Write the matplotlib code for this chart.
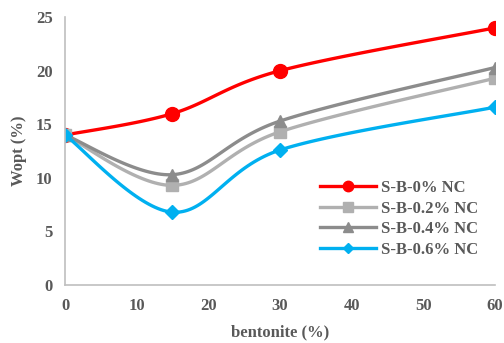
import numpy as np
import matplotlib
matplotlib.use('Agg')
from matplotlib import pyplot as plt

bentonite = [0, 15, 30, 60]
series_names = ['S-B-0% NC', 'S-B-0.2% NC', 'S-B-0.4% NC', 'S-B-0.6% NC']
wopt_0 = [14.0, 16.0, 20.0, 24.0]
wopt_02 = [14.0, 9.3, 14.3, 19.3]
wopt_04 = [14.0, 10.3, 15.3, 20.3]
wopt_06 = [14.0, 6.8, 12.6, 16.6]

colors = ['#FF0000', '#B0B0B0', '#8C8C8C', '#00B0F0']
markers = ['o', 's', '^', 'D']
msizes = [10, 9, 9, 7]


def smooth(x, y, n=40):
    # cubic bezier through the points, Excel-style smoothing
    x = np.asarray(x, float)
    y = np.asarray(y, float)
    px = np.concatenate([[x[0]], x, [x[-1]]])
    py = np.concatenate([[y[0]], y, [y[-1]]])
    xs, ys = [], []
    t = np.linspace(0, 1, n)
    for i in range(1, len(px) - 2):
        p0 = np.array([px[i], py[i]])
        p3 = np.array([px[i + 1], py[i + 1]])
        p1 = p0 + (np.array([px[i + 1], py[i + 1]]) - np.array([px[i - 1], py[i - 1]])) / 6
        p2 = p3 - (np.array([px[i + 2], py[i + 2]]) - np.array([px[i], py[i]])) / 6
        b = ((1 - t) ** 3)[:, None] * p0 + (3 * (1 - t) ** 2 * t)[:, None] * p1 \
            + (3 * (1 - t) * t ** 2)[:, None] * p2 + (t ** 3)[:, None] * p3
        xs.append(b[:, 0])
        ys.append(b[:, 1])
    return np.concatenate(xs), np.concatenate(ys)


plt.rcParams['font.family'] = ['Liberation Serif', 'DejaVu Serif']
plt.rcParams['font.weight'] = 'bold'

fig = plt.figure(figsize=(5.04, 3.43), dpi=100)
ax = fig.add_axes([0.129, 0.169, 0.853, 0.781])

for vals, name, c, mk, ms in zip([wopt_0, wopt_02, wopt_04, wopt_06], series_names, colors, markers, msizes):
    sx, sy = smooth(bentonite, vals)
    ax.plot(sx, sy, color=c, lw=2.4, solid_capstyle='round')
    ax.plot(bentonite, vals, linestyle='', marker=mk, color=c, markersize=ms)
    ax.plot([], [], color=c, lw=2.4, marker=mk, markersize=ms * 0.75, label=name)

ax.set_xlim(0, 60)
ax.set_ylim(0, 25)
ax.set_xticks(range(0, 61, 10))
ax.set_yticks(range(0, 26, 5))
ax.tick_params(length=0, labelsize=12, labelcolor='#595959', pad=9)
for lbl in ax.get_xticklabels() + ax.get_yticklabels():
    lbl.set_fontweight('bold')
for s in ['top', 'right']:
    ax.spines[s].set_visible(False)
for s in ['left', 'bottom']:
    ax.spines[s].set_color('#BFBFBF')
    ax.spines[s].set_linewidth(1.2)
ax.set_xlabel('bentonite (%)', fontsize=12, color='#595959', fontweight='bold', labelpad=8)
ax.set_ylabel('Wopt (%)', fontsize=12, color='#595959', fontweight='bold', labelpad=6)

leg = ax.legend(loc='lower right', bbox_to_anchor=(0.995, 0.045), frameon=False, fontsize=12,
                handlelength=3.4, labelspacing=0.28, handletextpad=0.25)
for t in leg.get_texts():
    t.set_color('#595959')
    t.set_fontweight('bold')

fig.savefig('out.png', dpi=100)
